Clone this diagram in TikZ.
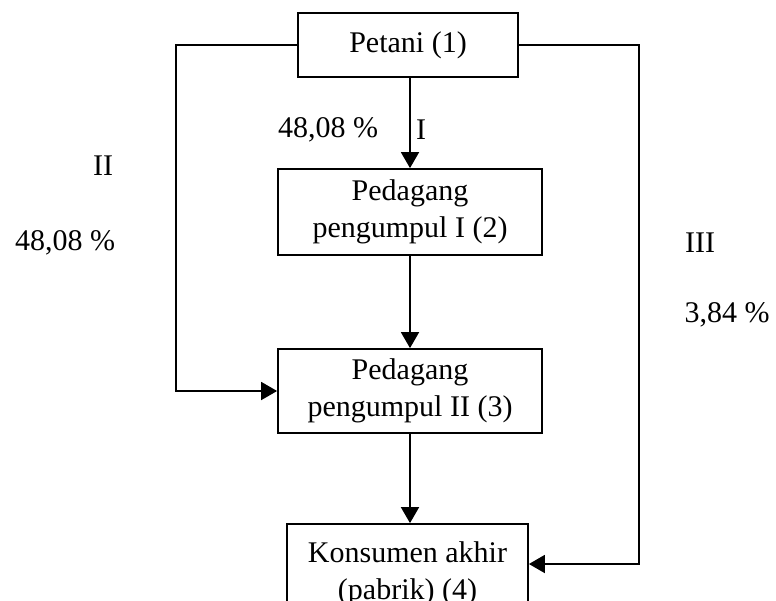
\documentclass[tikz,border=0pt]{standalone}
\usepackage{fontspec}
\setmainfont{Liberation Serif}
\usetikzlibrary{arrows.meta}

\begin{document}
\begin{tikzpicture}[x=1pt, y=-1pt, line width=1.8pt, line join=miter,
    kotak/.style={draw, inner sep=0pt, align=center, font=\fontsize{30}{37}\selectfont},
    teks/.style={inner sep=0pt, anchor=center, font=\fontsize{30}{37}\selectfont}]
  % bingkai gambar dulu, supaya kotak bawah terpotong di tepi
  \path[use as bounding box] (0,0) rectangle (776,600);
  % ---- panah: segitiga penuh --------------------------------------------
  \def\arr{-{Triangle[width=18pt,length=16pt]}}

  % ── kotak-kotak lembaga pemasaran ──
  \node[kotak, minimum width=220pt, minimum height=64pt] (petani) at (408,45) {Petani (1)};
  \node[kotak, minimum width=264pt, minimum height=86pt] (pengumpulA) at (410,212) {Pedagang\\pengumpul I (2)};
  \node[kotak, minimum width=264pt, minimum height=84pt] (pengumpulB) at (410,391) {Pedagang\\pengumpul II (3)};
  % kotak terakhir terpotong di tepi bawah gambar
  \node[kotak, minimum width=241pt, minimum height=100pt] (konsumen) at (407.5,574) {Konsumen akhir\\(pabrik) (4)};

  % ── saluran I : lurus ke bawah ──
  \draw[\arr] (petani.south -| pengumpulA.north) -- (pengumpulA.north);
  \draw[\arr] (pengumpulA.south) -- (pengumpulB.north);
  \draw[\arr] (pengumpulB.south) -- (pengumpulB.south |- konsumen.north);

  % ── saluran II (kiri) dan III (kanan) ──
  \draw[\arr] (petani.west) -- ++(-121,0) |- (pengumpulB.west);
  \draw[\arr] (petani.east) -- ++(120,0) |- ([yshift=10pt]konsumen.east);

  % ── label ──
  \node[teks] (persenI) at (328,130) {48,08 \%};
  \node[teks] (salI) at (421,130) {I};
  \node[teks] (salII) at (103,166) {II};
  \node[teks] (persenII) at (65,243) {48,08 \%};
  \node[teks] (salIII) at (700,243) {III};
  \node[teks] (persenIII) at (727,315) {3,84 \%};
\end{tikzpicture}
\end{document}
